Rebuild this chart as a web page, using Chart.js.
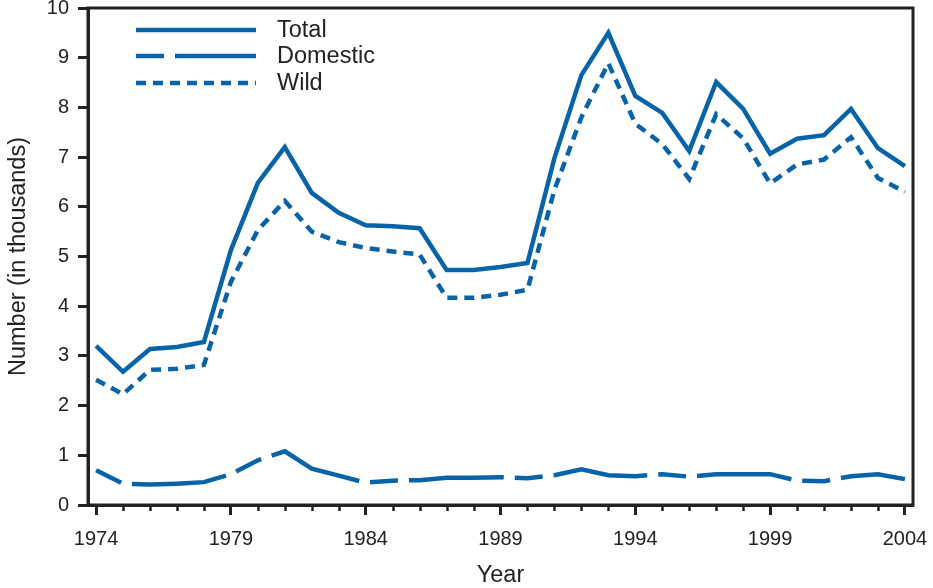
<!DOCTYPE html>
<html>
<head>
<meta charset="utf-8">
<script src="https://cdn.jsdelivr.net/npm/chart.js@4.4.1/dist/chart.umd.min.js"></script>
<style>
  html, body { margin: 0; padding: 0; background: #fff; }
  #wrap { width: 933px; height: 588px; }
</style>
</head>
<body>
<div id="wrap"><canvas id="casesChart" width="933" height="588"></canvas></div>
<script>
// Reported cases per year, in thousands
const years = [1974, 1975, 1976, 1977, 1978, 1979, 1980, 1981, 1982, 1983,
               1984, 1985, 1986, 1987, 1988, 1989, 1990, 1991, 1992, 1993,
               1994, 1995, 1996, 1997, 1998, 1999, 2000, 2001, 2002, 2003, 2004];
const totalCases = [3.20, 2.68, 3.14, 3.18, 3.28, 5.13, 6.48, 7.20, 6.28, 5.88,
                    5.63, 5.61, 5.57, 4.73, 4.73, 4.79, 4.87, 6.98, 8.65, 9.50,
                    8.23, 7.89, 7.12, 8.51, 7.97, 7.07, 7.37, 7.44, 7.97, 7.18, 6.82];
const domesticCases = [0.70, 0.43, 0.41, 0.43, 0.46, 0.62, 0.90, 1.08, 0.73, 0.59,
                       0.45, 0.49, 0.50, 0.55, 0.55, 0.56, 0.54, 0.60, 0.72, 0.60,
                       0.58, 0.62, 0.57, 0.62, 0.62, 0.62, 0.49, 0.48, 0.58, 0.62, 0.52];
const wildCases = [2.52, 2.23, 2.72, 2.74, 2.82, 4.49, 5.53, 6.12, 5.50, 5.29,
                   5.17, 5.10, 5.04, 4.17, 4.17, 4.23, 4.33, 6.34, 7.80, 8.89,
                   7.67, 7.26, 6.56, 7.86, 7.38, 6.47, 6.85, 6.95, 7.40, 6.58, 6.30];
const labelYears = [1974, 1979, 1984, 1989, 1994, 1999, 2004];
const seriesNames = ["Total", "Domestic", "Wild"];

const blue = "#0863a8";
const ink = "#222";
const fontFamily = "'Liberation Sans', Arial, Helvetica, sans-serif";

function toPoints(values) {
    return years.map((yr, i) => ({ x: yr, y: values[i] }));
}

// Short unlabeled ticks for the in-between years
const minorTicks = {
    id: "minorTicks",
    afterDraw(chart) {
        const ctx = chart.ctx;
        const xs = chart.scales.x;
        const bottom = chart.chartArea.bottom;
        ctx.save();
        ctx.strokeStyle = ink;
        ctx.lineWidth = 2.5;
        years.forEach(yr => {
            if (labelYears.includes(yr)) return;
            const px = Math.round(xs.getPixelForValue(yr)) + 0.5;
            ctx.beginPath();
            ctx.moveTo(px, bottom);
            ctx.lineTo(px, bottom + 6);
            ctx.stroke();
        });
        ctx.restore();
    }
};

// Box around the plot area
const frame = {
    id: "frame",
    afterDraw(chart) {
        const { left, top, right, bottom } = chart.chartArea;
        const ctx = chart.ctx;
        ctx.save();
        ctx.strokeStyle = ink;
        ctx.lineWidth = 3;
        ctx.strokeRect(left, top, right - left, bottom - top);
        ctx.restore();
    }
};

// Legend drawn inside the plot, top left
const insideLegend = {
    id: "insideLegend",
    afterDraw(chart) {
        const ctx = chart.ctx;
        const rows = [30, 56, 83];
        ctx.save();
        chart.data.datasets.forEach((ds, i) => {
            const y = rows[i];
            ctx.strokeStyle = ds.borderColor;
            ctx.lineWidth = ds.borderWidth;
            ctx.setLineDash(ds.borderDash || []);
            ctx.beginPath();
            ctx.moveTo(136, y);
            ctx.lineTo(256, y);
            ctx.stroke();
            ctx.setLineDash([]);
            ctx.fillStyle = ink;
            ctx.font = "23.5px " + fontFamily;
            ctx.textBaseline = "middle";
            ctx.fillText(ds.label, 277, y + 1);
        });
        ctx.restore();
    }
};

const lineStyle = {
    borderColor: blue,
    borderWidth: 4.5,
    pointRadius: 0,
    tension: 0,
    fill: false,
    borderCapStyle: "butt",
    borderJoinStyle: "miter"
};

new Chart(document.getElementById("casesChart"), {
    type: "line",
    data: {
        datasets: [
            { ...lineStyle, label: seriesNames[0], data: toPoints(totalCases) },
            { ...lineStyle, label: seriesNames[1], data: toPoints(domesticCases), borderDash: [28, 11, 95, 11] },
            { ...lineStyle, label: seriesNames[2], data: toPoints(wildCases), borderDash: [10, 7] }
        ]
    },
    options: {
        responsive: false,
        animation: false,
        devicePixelRatio: 1,
        layout: { padding: { top: 8, right: 20, left: 0, bottom: 0 } },
        plugins: { legend: { display: false }, tooltip: { enabled: false } },
        scales: {
            x: {
                type: "linear",
                min: 1973.7,
                max: 2004.3,
                afterBuildTicks: s => { s.ticks = years.map(v => ({ value: v })); },
                afterFit: s => {
                    s.height = 83;
                    s.paddingLeft = 0;
                    s.paddingRight = 0;
                },
                ticks: {
                    autoSkip: false,
                    maxRotation: 0,
                    padding: 12,
                    color: ink,
                    font: { size: 20, family: fontFamily },
                    callback: v => labelYears.includes(v) ? String(v) : ""
                },
                grid: {
                    drawOnChartArea: false,
                    tickLength: 10,
                    tickWidth: 3,
                    tickColor: c => labelYears.includes(c.tick && c.tick.value) ? ink : "rgba(0,0,0,0)"
                },
                border: { color: ink, width: 3 },
                title: {
                    display: true,
                    text: "Year",
                    color: ink,
                    font: { size: 23.5, family: fontFamily, lineHeight: 1 },
                    padding: { top: 0, bottom: 1 }
                }
            },
            y: {
                min: 0,
                max: 10,
                afterFit: s => {
                    s.width = 88;
                    s.paddingTop = 0;
                    s.paddingBottom = 0;
                },
                ticks: {
                    stepSize: 1,
                    padding: 9,
                    color: ink,
                    font: { size: 20, family: fontFamily }
                },
                grid: {
                    drawOnChartArea: false,
                    tickLength: 10,
                    tickWidth: 3,
                    tickColor: ink
                },
                border: { color: ink, width: 3 },
                title: {
                    display: true,
                    text: "Number (in thousands)",
                    color: ink,
                    font: { size: 23.5, family: fontFamily, lineHeight: 1 },
                    padding: { top: 7, bottom: 0 }
                }
            }
        }
    },
    plugins: [minorTicks, frame, insideLegend]
});
</script>
</body>
</html>
